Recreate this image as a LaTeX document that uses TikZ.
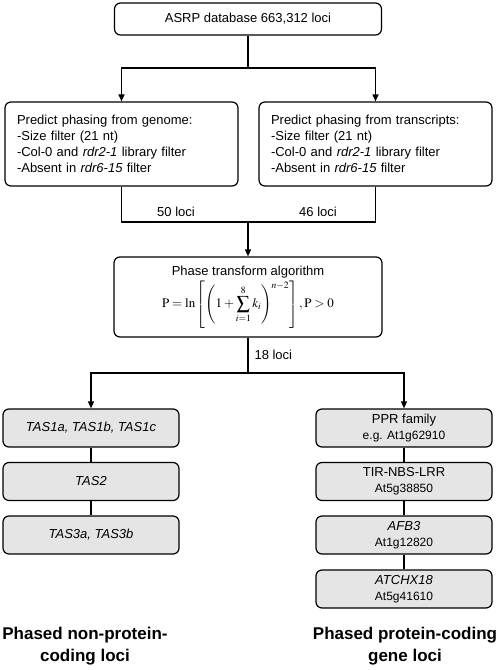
\documentclass[tikz,border=0pt]{standalone}
\usepackage{mathptmx}
\usepackage{fontspec}
\setmainfont{Liberation Sans}
\usetikzlibrary{arrows.meta}

\tikzset{
  box/.style={draw, line width=1.2pt, rounded corners=6pt, align=center, inner sep=0pt,
    font=\fontsize{13}{16}\selectfont},
  listbox/.style={box, align=left, text width=209pt, minimum height=84pt, inner xsep=12pt},
  graybox/.style={box, fill=gray!20, minimum width=176pt, minimum height=38pt},
  wire/.style={line width=1.2pt},
  arrow/.style={wire, -{Triangle[length=7pt,width=6pt]}},
  count/.style={font=\fontsize{13}{16}\selectfont},
  coltitle/.style={font=\bfseries\fontsize{17}{22}\selectfont, align=center}
}
\newcommand{\sub}[1]{{\fontsize{12}{14}\selectfont #1}}

\begin{document}
\begin{tikzpicture}[x=1pt, y=-1pt]
    \useasboundingbox (0,0) rectangle (498,670);
    % top of the pipeline
    \node[box, minimum width=267pt, minimum height=32pt] (asrp) at (248,19) {ASRP database 663,312 loci};
    \node[listbox] (genome) at (121.5,144) {Predict phasing from genome:\\-Size filter (21 nt)\\-Col-0 and \textit{rdr2-1} library filter\\-Absent in \textit{rdr6-15} filter};
    \node[listbox] (transcripts) at (375.5,144) {Predict phasing from transcripts:\\-Size filter (21 nt)\\-Col-0 and \textit{rdr2-1} library filter\\-Absent in \textit{rdr6-15} filter};
    \node[box, minimum width=268pt, minimum height=80pt] (phase) at (248,297) {Phase transform algorithm\\[2pt]
      $\displaystyle \mathrm{P}=\ln\left[\left(1+\sum_{i=1}^{8}k_i\right)^{n-2}\right],\mathrm{P}>0$};
    \coordinate (split) at (248,68);
    \coordinate (merge) at (248,222);
    \coordinate (fork) at (248,373);
    \node[count] (n50) at (176,212) {50 loci};
    \node[count] (n46) at (318,212) {46 loci};
    \node[count, anchor=west] (n18) at (251,355) {18 loci};
    % left column
    \node[graybox] (tas1) at (91,428) {\textit{TAS1a, TAS1b, TAS1c}};
    \node[graybox] (tas2) at (91,481.5) {\textit{TAS2}};
    \node[graybox] (tas3) at (91,535) {\textit{TAS3a, TAS3b}};
    % right column
    \node[graybox] (ppr) at (404,428) {PPR family\\\sub{e.g. At1g62910}};
    \node[graybox] (tir) at (404,481.5) {TIR-NBS-LRR\\\sub{At5g38850}};
    \node[graybox] (afb) at (404,535) {\textit{AFB3}\\\sub{At1g12820}};
    \node[graybox] (chx) at (404,589) {\textit{ATCHX18}\\\sub{At5g41610}};
    \node[coltitle] (nonprot) at (85,646) {Phased non-protein-\\coding loci};
    \node[coltitle] (prot) at (405,646) {Phased protein-coding\\gene loci};
    % connectors
    \draw[wire] (asrp) -- (split);
    \draw[arrow] (split) -| (genome);
    \draw[arrow] (split) -| (transcripts);
    \draw[wire] (genome) |- (merge) -| (transcripts);
    \draw[arrow] (merge) -- (phase);
    \draw[wire] (phase) -- (fork);
    \draw[arrow] (fork) -| (tas1);
    \draw[arrow] (fork) -| (ppr);
    \draw[wire] (tas1) -- (tas2);
    \draw[wire] (tas2) -- (tas3);
    \draw[wire] (ppr) -- (tir);
    \draw[wire] (tir) -- (afb);
    \draw[wire] (afb) -- (chx);
\end{tikzpicture}
\end{document}
